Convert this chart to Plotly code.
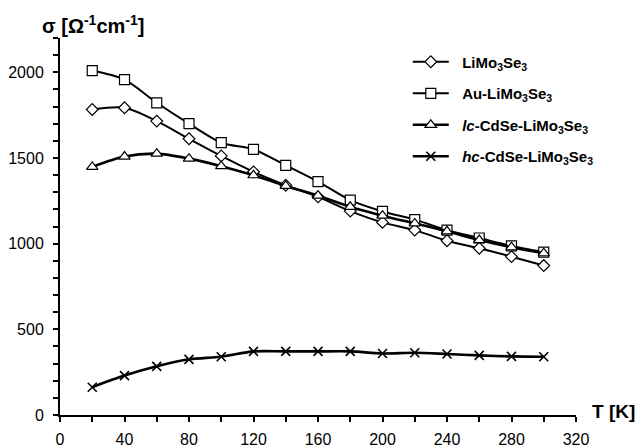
import plotly.graph_objects as go

T = [20, 40, 60, 80, 100, 120, 140, 160, 180, 200, 220, 240, 260, 280, 300]
li = [1783, 1793, 1715, 1612, 1512, 1419, 1341, 1273, 1190, 1124, 1079, 1017, 973, 924, 872]
au = [2010, 1957, 1822, 1700, 1589, 1550, 1457, 1362, 1254, 1188, 1140, 1079, 1033, 987, 951]
lc = [1448, 1508, 1525, 1496, 1452, 1399, 1337, 1280, 1215, 1163, 1118, 1072, 1021, 979, 944]
hc = [162, 230, 284, 325, 340, 371, 371, 371, 371, 359, 363, 356, 348, 342, 340]

names = ["LiMo<sub>3</sub>Se<sub>3</sub>", "Au-LiMo<sub>3</sub>Se<sub>3</sub>",
         "<i>lc</i>-CdSe-LiMo<sub>3</sub>Se<sub>3</sub>", "<i>hc</i>-CdSe-LiMo<sub>3</sub>Se<sub>3</sub>"]
series = [li, au, lc, hc]
symbols = ["diamond", "square", "triangle-up", "x-thin"]
sizes = [9, 10, 10, 9]
widths = [2, 2, 2.6, 2.6]

fig = go.Figure()
for i, (nm, ys, sym, sz, w) in enumerate(zip(names, series, symbols, sizes, widths)):
    fig.add_trace(go.Scatter(
        x=T, y=ys, name="&nbsp;&nbsp;<b>" + nm + "</b>", mode="lines+markers",
        line=dict(color="black", width=w, shape="spline", smoothing=0.8),
        marker=dict(symbol=sym, size=sz, color="white",
                    line=dict(color="black", width=1.6 if sym == "x-thin" else 1.2)),
        legendgroup=str(i),
    ))

# page body has an 8px margin: figure is sized/positioned to compensate
fig.update_layout(
    width=636, height=439,
    margin=dict(l=52, r=68, t=30, b=32, autoexpand=False),
    paper_bgcolor="white", plot_bgcolor="white",
    font=dict(family="Liberation Sans, Arial, sans-serif", size=16, color="black"),
    showlegend=True,
    legend=dict(x=0.674, y=0.98, xanchor="left", yanchor="top",
                font=dict(size=15, color="black"), bgcolor="rgba(0,0,0,0)",
                traceorder="grouped", tracegroupgap=9, itemwidth=36),
    xaxis=dict(range=[0, 320], tickvals=list(range(0, 321, 40)), automargin=False,
               showgrid=False, zeroline=False, showline=True, linecolor="black", linewidth=2,
               ticks="outside", ticklen=5, tickwidth=2, tickcolor="black",
               ticklabelstandoff=4,
               minor=dict(tickvals=list(range(20, 320, 40)), ticks="outside", ticklen=5,
                          tickwidth=2, tickcolor="black"),
               tickfont=dict(size=16)),
    yaxis=dict(range=[0, 2200], tickvals=[0, 500, 1000, 1500, 2000], automargin=False,
               showgrid=False, zeroline=False, showline=True, linecolor="black", linewidth=2,
               ticks="outside", ticklen=5, tickwidth=2, tickcolor="black",
               ticklabelstandoff=6,
               minor=dict(tickvals=[v for v in range(100, 2201, 100) if v % 500 != 0],
                          ticks="outside", ticklen=5, tickwidth=2, tickcolor="black"),
               tickfont=dict(size=16)),
)

fig.add_annotation(text="<b>σ [Ω<sup>-1</sup>cm<sup>-1</sup>]</b>", xref="paper", yref="paper",
                   x=0, y=1.0, xanchor="left", yanchor="bottom", xshift=-20, yshift=-1,
                   showarrow=False, font=dict(size=20))
fig.add_annotation(text="<b>T [K]</b>", xref="paper", yref="paper",
                   x=1.0, y=0.0, xanchor="left", yanchor="middle", xshift=14, yshift=4,
                   showarrow=False, font=dict(size=19))

fig.write_html("out.html")
